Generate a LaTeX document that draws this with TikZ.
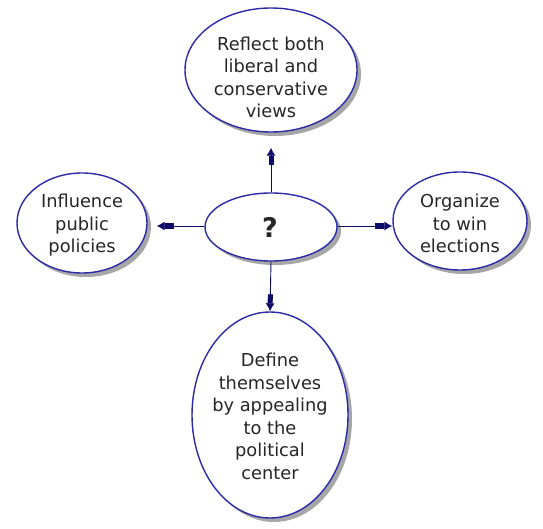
\documentclass[tikz,border=0pt]{standalone}
\usepackage{fontspec}
\setmainfont{DejaVu Sans}
\usetikzlibrary{shapes.geometric,arrows.meta}
\definecolor{edgeblue}{HTML}{2B2BA8}
\definecolor{linenavy}{HTML}{0C0C66}
\tikzset{
  bubble/.style={ellipse, draw=edgeblue, line width=1.4pt, fill=white, inner sep=0pt},
  words/.style={align=center, inner sep=0pt, font=\fontsize{17.8}{22.5}\selectfont, text=black!85},
  shade/.style={ellipse, fill=black!35, draw=none, inner sep=0pt},
  arr/.style={draw=linenavy, line width=0.9pt,
    -{Rectangle[length=9pt,width=5pt]Latex[length=8pt,width=9pt]}}
}
\begin{document}
\begin{tikzpicture}[x=1pt,y=-1pt]
\useasboundingbox (0,0) rectangle (543,529);
% shadows
\node[shade, minimum width=172pt, minimum height=124pt] at (275,74) {};
\node[shade, minimum width=132pt, minimum height=68pt] at (275,231) {};
\node[shade, minimum width=130pt, minimum height=100pt] at (86,227) {};
\node[shade, minimum width=134pt, minimum height=98pt] at (464,225) {};
\node[shade, minimum width=156pt, minimum height=206pt] at (274,419) {};
% bubbles
\node[bubble, minimum width=172pt, minimum height=124pt] (t) at (271,70) {};
\node[bubble, minimum width=132pt, minimum height=68pt] (c) at (271,227) {};
\node[bubble, minimum width=130pt, minimum height=100pt] (l) at (82,223) {};
\node[bubble, minimum width=134pt, minimum height=98pt] (r) at (460,221) {};
\node[bubble, minimum width=156pt, minimum height=206pt] (b) at (270,415) {};
% texts
\node[words] (tt) at (271,77.5) {Reflect both\\liberal and\\conservative\\views};
\node[words, font=\fontsize{27}{30}\selectfont\bfseries] (ct) at (270,227) {?};
\node[words] (lt) at (82,225.5) {Influence\\public\\policies};
\node[words] (rt) at (460,223.5) {Organize\\to win\\elections};
\node[words] (bt) at (270,416.5) {Define\\themselves\\by appealing\\to the\\political\\center};
% connectors
\draw[arr, shorten >=15pt] (c.north) -- (t.south);
\draw[arr] (c.south) -- (b.north);
\draw[arr, shorten >=9pt] ([yshift=1pt]c.west) -- ([yshift=1pt]c.west -| l.east);
\draw[arr] ([yshift=1pt]c.east) -- ([yshift=1pt]c.east -| r.west);
\end{tikzpicture}
\end{document}
